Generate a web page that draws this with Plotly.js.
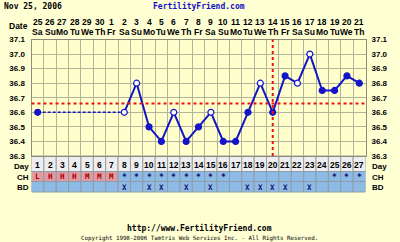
<!DOCTYPE html>
<html><head><meta charset="utf-8">
<script src="https://cdn.plot.ly/plotly-3.0.1.min.js"></script>
<style>html,body{margin:0;padding:0;background:#FFFFD4;}#c{width:400px;height:242px;}</style>
</head><body><div id="c"></div><script>
const days = [1,2,3,4,5,6,7,8,9,10,11,12,13,14,15,16,17,18,19,20,21,22,23,24,25,26,27];
const dates = ["25","26","27","28","29","30","1","2","3","4","5","6","7","8","9","10","11","12","13","14","15","16","17","18","19","20","21"];
const weekdays = ["Sa","Su","Mo","Tu","We","Th","Fr","Sa","Su","Mo","Tu","We","Th","Fr","Sa","Su","Mo","Tu","We","Th","Fr","Sa","Su","Mo","Tu","We","Th"];
const temps = [36.6,null,null,null,null,null,null,36.6,36.8,36.5,36.4,36.6,36.4,36.5,36.6,36.4,36.4,36.6,36.8,36.6,36.85,36.8,37.0,36.75,36.75,36.85,36.8];
const openDays = [8,9,12,15,19,22,23];
const ch = ["L","H","H","H","M","M","M","*","*","*","*","*","*","*","*","*","","","","","","","","","*","*","*"];
const bd = ["","","","","","","","X","","X","X","","X","","X","","","X","X","X","X","","X","","","",""];
const coverline = 36.66;
const ovulationDay = 20;
const yTicks = [36.3,36.4,36.5,36.6,36.7,36.8,36.9,37.0,37.1];

const H = 242;
const py = p => 1 - p / H;
const mono = "DejaVu Sans Mono";
const sans = "Liberation Sans";
const blue = "#1414C8";

const firstIdx = temps.findIndex(v => v !== null);
let nextIdx = -1;
for (let i = firstIdx + 1; i < temps.length; i++) { if (temps[i] !== null) { nextIdx = i; break; } }
const gapTrace = {x:[days[firstIdx], days[nextIdx]], y:[temps[firstIdx], temps[nextIdx]], mode:'lines',
  line:{color:blue, width:1.5, dash:'3px,2px'}, hoverinfo:'skip', showlegend:false};
const mainX = [], mainY = [];
for (let i = nextIdx; i < temps.length; i++) { mainX.push(days[i]); mainY.push(temps[i]); }
const mainTrace = {x:mainX, y:mainY, mode:'lines', line:{color:blue, width:2}, showlegend:false, hoverinfo:'skip'};
const allX = [], allY = [], fills = [];
days.forEach((d,i) => { if (temps[i] !== null) { allX.push(d); allY.push(temps[i]); fills.push(openDays.includes(d) ? '#FFFFFF' : blue); } });
const markerTrace = {x:allX, y:allY, mode:'markers', marker:{size:6, color:fills, line:{color:blue, width:1.2}}, showlegend:false, hoverinfo:'skip'};
const rightAxisTrace = {x:[days[0]], y:[yTicks[0]], yaxis:'y2', mode:'markers', marker:{opacity:0}, showlegend:false, hoverinfo:'skip'};

const shapes = [];
const annotations = [];
const rows = [
  {top:156, bot:171.5},
  {top:171.5, bot:181.5},
  {top:181.5, bot:192}
];
const cellFont = {family:sans, size:8.5, color:'#000000', weight:'bold'};
days.forEach((d,i) => {
  shapes.push({type:'rect', xref:'x', yref:'paper', x0:d-0.5, x1:d+0.5, y0:py(rows[0].bot), y1:py(rows[0].top),
    fillcolor:'#EDEDF2', line:{color:'#A0A090', width:1}, layer:'below'});
  const pink = ["L","H","M"].includes(ch[i]);
  shapes.push({type:'rect', xref:'x', yref:'paper', x0:d-0.5, x1:d+0.5, y0:py(rows[1].bot), y1:py(rows[1].top),
    fillcolor: pink ? '#E49AA0' : '#8EBBE6', line:{color:'#8C9CA8', width:1}, layer:'below'});
  shapes.push({type:'rect', xref:'x', yref:'paper', x0:d-0.5, x1:d+0.5, y0:py(rows[2].bot), y1:py(rows[2].top),
    fillcolor:'#8EBBE6', line:{color:'#8C9CA8', width:1}, layer:'below'});
  annotations.push({x:d, xref:'x', y:py(164.5), yref:'paper', text:String(d), showarrow:false,
    font:cellFont, xanchor:'center', yanchor:'middle'});
  if (ch[i]) annotations.push({x:d, xref:'x', y:py(ch[i]==='*'?177.5:176.5), yref:'paper', text:ch[i], showarrow:false,
    font:{family:mono, size:ch[i]==='*'?8:7.5, color: pink ? '#A00000' : '#10106A', weight:'bold'}, xanchor:'center', yanchor:'middle'});
  if (bd[i]) annotations.push({x:d, xref:'x', y:py(187), yref:'paper', text:bd[i], showarrow:false,
    font:{family:mono, size:7.5, color:'#10106A', weight:'bold'}, xanchor:'center', yanchor:'middle'});
  annotations.push({x:d, xref:'x', y:py(22.5), yref:'paper', text:dates[i], showarrow:false,
    font:cellFont, xanchor:'center', yanchor:'middle'});
  annotations.push({x:d, xref:'x', y:py(32), yref:'paper', text:weekdays[i], showarrow:false,
    font:cellFont, xanchor:'center', yanchor:'middle'});
});
shapes.push({type:'line', xref:'paper', yref:'y', x0:31.5/400, x1:365.5/400, y0:coverline, y1:coverline,
  line:{color:'#EE1010', width:2, dash:'dot'}});
shapes.push({type:'line', xref:'x', yref:'paper', x0:ovulationDay, x1:ovulationDay, y0:py(156), y1:py(39.5),
  line:{color:'#EE1010', width:2, dash:'dot'}});

const labelFont = {family:sans, size:8, color:'#000000', weight:'bold'};
[["Day",166],["CH",177],["BD",187]].forEach(([t,y]) => {
  annotations.push({x:31/400, xref:'paper', y:py(y), yref:'paper', text:t, showarrow:false, font:labelFont, xanchor:'right', yanchor:'middle'});
  annotations.push({x:370/400, xref:'paper', y:py(y), yref:'paper', text:t, showarrow:false, font:labelFont, xanchor:'left', yanchor:'middle'});
});
annotations.push({x:30/400, xref:'paper', y:py(26), yref:'paper', text:'Date', showarrow:false, font:{family:sans, size:8.5, color:'#000000', weight:'bold'}, xanchor:'right', yanchor:'middle'});
annotations.push({x:2/400, xref:'paper', y:py(6), yref:'paper', text:'Nov 25, 2006', showarrow:false,
  font:{family:mono, size:8, color:'#000000', weight:'bold'}, xanchor:'left', yanchor:'middle'});
annotations.push({x:199/400, xref:'paper', y:py(6), yref:'paper', text:'FertilityFriend.com', showarrow:false,
  font:{family:mono, size:8, color:'#1010C8', weight:'bold'}, xanchor:'center', yanchor:'middle'});
annotations.push({x:199.5/400, xref:'paper', y:py(228), yref:'paper', text:'http://www.FertilityFriend.com', showarrow:false,
  font:{family:mono, size:8, color:'#000000', weight:'bold'}, xanchor:'center', yanchor:'middle'});
annotations.push({x:199.5/400, xref:'paper', y:py(238.5), yref:'paper', text:'Copyright 1998-2006 Tamtris Web Services Inc. - All Rights Reserved.', showarrow:false,
  font:{family:mono, size:5.8, color:'#000000'}, xanchor:'center', yanchor:'middle'});

const yDomain = [py(156), py(39.5)];
const yCommon = {range:[36.3,37.1], domain:yDomain, tickvals:yTicks, ticktext:yTicks.map(v=>v.toFixed(1)),
  tickfont:{family:sans, size:8, color:'#000000', weight:'bold'}, ticks:'', zeroline:false, fixedrange:true};
const layout = {
  width:400, height:242, margin:{l:0,r:0,t:0,b:0,pad:0},
  paper_bgcolor:'#FFFFD4', plot_bgcolor:'#FFFFCC',
  xaxis:{range:[0.5,27.5], domain:[31.5/400,365.5/400], tick0:0.5, dtick:1, showticklabels:false, ticks:'',
    showgrid:true, gridcolor:'#B4B49A', gridwidth:1, zeroline:false, showline:true, mirror:true, linecolor:'#8C8C78', linewidth:1},
  yaxis:Object.assign({}, yCommon, {side:'left', showgrid:true, gridcolor:'#B4B49A', showline:true, mirror:true, linecolor:'#8C8C78', ticklabelstandoff:4}),
  yaxis2:Object.assign({}, yCommon, {side:'right', overlaying:'y', showgrid:false, showline:false, ticklabelstandoff:5}),
  shapes:shapes, annotations:annotations, showlegend:false
};
Plotly.newPlot('c', [gapTrace, mainTrace, markerTrace, rightAxisTrace], layout, {staticPlot:true, displayModeBar:false});
</script></body></html>
